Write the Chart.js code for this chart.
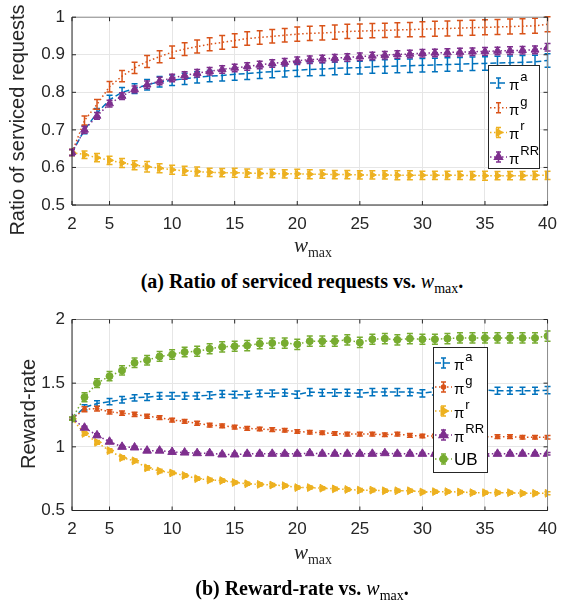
<!DOCTYPE html>
<html>
<head>
<meta charset="utf-8">
<script src="https://cdn.jsdelivr.net/npm/chart.js@4.4.0/dist/chart.umd.min.js"></script>
<style>
  body { margin: 0; background: #fff; width: 566px; height: 604px; position: relative; overflow: hidden; }
  canvas { position: absolute; left: 0; }
  .ytitle { position: absolute; font-family: "Liberation Sans", Arial, sans-serif; font-size: 20px; color: #262626;
            transform: translate(-50%, -50%) rotate(-90deg); white-space: nowrap; }
  .xtitle { position: absolute; font-family: "Liberation Serif", serif; color: #262626;
            transform: translate(-50%, -50%); white-space: nowrap; }
  .xtitle i { font-size: 21px; }
  .xtitle sub, .cap sub { font-size: 14px; font-style: normal; }
  .cap { position: absolute; font-family: "Liberation Serif", serif; font-weight: bold; font-size: 20px; color: #000;
         transform: translate(-50%, -50%); white-space: nowrap; }
  .cap span { font-weight: normal; }
  .cap i { font-size: 20px; }
</style>
</head>
<body>
<canvas id="chart_ratio" width="566" height="262" style="top:0"></canvas>
<canvas id="chart_reward" width="566" height="270" style="top:300px"></canvas>

<div class="ytitle" style="left:17px;top:120px">Ratio of serviced requests</div>
<div class="xtitle" style="left:313px;top:247px"><i>w</i><sub>max</sub></div>
<div class="cap" style="left:302px;top:283px">(a) Ratio of serviced requests vs. <span><i>w</i><sub>max</sub></span>.</div>

<div class="ytitle" style="left:28px;top:414px">Reward-rate</div>
<div class="xtitle" style="left:313px;top:554px"><i>w</i><sub>max</sub></div>
<div class="cap" style="left:302px;top:590px">(b) Reward-rate vs. <span><i>w</i><sub>max</sub></span>.</div>

<script>
// x values and tick labels
var wmax = [2,3,4,5,6,7,8,9,10,11,12,13,14,15,16,17,18,19,20,21,22,23,24,25,26,27,28,29,30,31,32,33,34,35,36,37,38,39,40];
var xTicks = [2,5,10,15,20,25,30,35,40];
var ratioTicks = [0.5,0.6,0.7,0.8,0.9,1];
var rewardTicks = [0.5,1,1.5,2];

// (a) ratio of serviced requests
var ratioA  = [0.640,0.700,0.745,0.780,0.800,0.810,0.820,0.828,0.832,0.836,0.840,0.843,0.845,0.848,0.850,0.853,0.855,0.857,0.859,0.861,0.862,0.864,0.865,0.866,0.868,0.869,0.870,0.871,0.872,0.873,0.874,0.875,0.876,0.877,0.878,0.879,0.880,0.881,0.885];
var ratioG  = [0.640,0.725,0.768,0.815,0.843,0.865,0.882,0.895,0.907,0.915,0.922,0.928,0.933,0.938,0.943,0.946,0.949,0.952,0.955,0.957,0.958,0.960,0.962,0.963,0.964,0.965,0.966,0.967,0.968,0.969,0.970,0.971,0.972,0.973,0.974,0.975,0.976,0.977,0.981];
var ratioR  = [0.640,0.634,0.626,0.619,0.612,0.606,0.602,0.598,0.594,0.591,0.589,0.587,0.586,0.586,0.585,0.584,0.584,0.583,0.583,0.582,0.582,0.581,0.581,0.580,0.580,0.580,0.579,0.579,0.579,0.579,0.579,0.579,0.578,0.578,0.578,0.578,0.578,0.579,0.579];
var ratioRR = [0.640,0.700,0.737,0.770,0.790,0.808,0.820,0.830,0.838,0.845,0.851,0.856,0.861,0.865,0.869,0.873,0.877,0.880,0.884,0.887,0.889,0.891,0.893,0.895,0.897,0.899,0.901,0.902,0.904,0.905,0.906,0.907,0.908,0.909,0.910,0.911,0.912,0.913,0.920];
// error bar half widths
var ratioErrA  = [0.008,0.010,0.012,0.012,0.013,0.013,0.014,0.014,0.014,0.015,0.015,0.015,0.015,0.016,0.016,0.016,0.016,0.016,0.017,0.017,0.017,0.017,0.017,0.017,0.017,0.018,0.018,0.018,0.018,0.018,0.018,0.018,0.018,0.018,0.018,0.018,0.018,0.018,0.018];
var ratioErrG  = [0.008,0.012,0.013,0.014,0.015,0.015,0.016,0.016,0.016,0.017,0.017,0.017,0.018,0.018,0.018,0.018,0.018,0.018,0.019,0.019,0.019,0.019,0.019,0.019,0.019,0.019,0.019,0.019,0.020,0.020,0.020,0.020,0.020,0.020,0.020,0.020,0.020,0.020,0.020];
var ratioErrR  = [0.008,0.010,0.011,0.011,0.012,0.012,0.014,0.012,0.012,0.012,0.012,0.011,0.011,0.012,0.011,0.012,0.011,0.011,0.012,0.012,0.011,0.011,0.011,0.011,0.011,0.011,0.012,0.012,0.011,0.011,0.011,0.011,0.011,0.012,0.011,0.011,0.011,0.011,0.011];
var ratioErrRR = [0.008,0.009,0.009,0.009,0.009,0.009,0.010,0.010,0.010,0.010,0.010,0.010,0.010,0.010,0.010,0.010,0.010,0.010,0.010,0.010,0.010,0.010,0.010,0.010,0.010,0.010,0.010,0.010,0.010,0.010,0.010,0.010,0.010,0.010,0.010,0.010,0.010,0.010,0.010];

// (b) reward rate
var rewardA  = [1.22,1.31,1.34,1.355,1.37,1.385,1.39,1.40,1.40,1.40,1.40,1.405,1.415,1.41,1.41,1.42,1.42,1.425,1.41,1.43,1.425,1.425,1.425,1.42,1.43,1.43,1.43,1.43,1.42,1.435,1.435,1.44,1.44,1.445,1.44,1.44,1.44,1.44,1.445];
var rewardG  = [1.22,1.295,1.30,1.275,1.265,1.255,1.24,1.23,1.21,1.20,1.185,1.17,1.165,1.155,1.145,1.14,1.135,1.13,1.12,1.115,1.11,1.105,1.10,1.10,1.10,1.095,1.10,1.09,1.085,1.085,1.085,1.08,1.08,1.08,1.08,1.08,1.075,1.075,1.075];
var rewardR  = [1.22,1.105,1.035,0.97,0.915,0.89,0.835,0.81,0.795,0.775,0.75,0.74,0.735,0.72,0.71,0.705,0.70,0.695,0.68,0.68,0.675,0.67,0.665,0.66,0.66,0.655,0.655,0.655,0.645,0.648,0.648,0.645,0.64,0.64,0.64,0.64,0.635,0.635,0.635];
var rewardRR = [1.22,1.15,1.09,1.04,1.00,0.995,0.97,0.97,0.96,0.955,0.95,0.95,0.94,0.94,0.945,0.945,0.945,0.945,0.945,0.95,0.945,0.945,0.945,0.945,0.945,0.95,0.945,0.945,0.945,0.945,0.945,0.945,0.945,0.945,0.945,0.945,0.945,0.945,0.945];
var rewardUB = [1.22,1.39,1.50,1.555,1.60,1.66,1.68,1.71,1.725,1.745,1.75,1.77,1.785,1.79,1.795,1.81,1.815,1.815,1.805,1.83,1.83,1.83,1.84,1.82,1.845,1.85,1.84,1.85,1.845,1.845,1.85,1.855,1.855,1.855,1.855,1.855,1.855,1.855,1.87];
var rewardErrA  = [0.010,0.020,0.022,0.024,0.025,0.025,0.026,0.026,0.026,0.026,0.026,0.027,0.027,0.027,0.027,0.027,0.027,0.027,0.028,0.028,0.028,0.028,0.028,0.028,0.028,0.028,0.028,0.028,0.028,0.028,0.028,0.028,0.028,0.028,0.028,0.028,0.028,0.028,0.028];
var rewardErrG  = [0.010,0.020,0.018,0.017,0.016,0.016,0.016,0.015,0.015,0.015,0.015,0.015,0.015,0.015,0.014,0.014,0.014,0.014,0.014,0.014,0.014,0.014,0.014,0.014,0.014,0.014,0.014,0.014,0.014,0.014,0.014,0.014,0.014,0.014,0.014,0.014,0.014,0.014,0.014];
var rewardErrR  = [0.010,0.014,0.014,0.014,0.014,0.014,0.016,0.014,0.013,0.013,0.013,0.013,0.013,0.012,0.012,0.012,0.012,0.012,0.012,0.012,0.012,0.012,0.012,0.012,0.012,0.012,0.012,0.012,0.012,0.012,0.012,0.012,0.012,0.012,0.012,0.012,0.012,0.012,0.012];
var rewardErrRR = [0.010,0.012,0.012,0.011,0.010,0.010,0.010,0.010,0.010,0.010,0.010,0.010,0.010,0.010,0.010,0.010,0.010,0.010,0.010,0.010,0.010,0.010,0.010,0.010,0.010,0.010,0.010,0.010,0.010,0.010,0.010,0.010,0.010,0.010,0.010,0.010,0.010,0.010,0.010];
var rewardErrUB = [0.012,0.035,0.035,0.036,0.036,0.037,0.038,0.038,0.038,0.038,0.039,0.039,0.040,0.040,0.040,0.040,0.040,0.040,0.040,0.040,0.040,0.040,0.040,0.040,0.040,0.040,0.040,0.040,0.040,0.040,0.040,0.040,0.040,0.040,0.040,0.040,0.040,0.040,0.040];

// MATLAB default colours
var blue = "#0072BD", orange = "#D95319", yellow = "#EDB120", purple = "#7E2F8E", green = "#77AC30";
var dashed = [6, 3];
var dotted = [1.5, 2.5];

// error bars, frame, inward ticks and legend
const extras = {
  id: "extras",
  beforeDatasetDraw(chart, args) {
    const ds = chart.data.datasets[args.index];
    if (!ds.errors) return;
    const sx = chart.scales.x, sy = chart.scales.y, ctx = chart.ctx;
    ctx.save();
    ctx.strokeStyle = ds.borderColor;
    ctx.lineWidth = 1.5;
    ctx.setLineDash([]);
    ctx.beginPath();
    ds.data.forEach((p, k) => {
      const px = sx.getPixelForValue(p.x);
      const y1 = sy.getPixelForValue(p.y - ds.errors[k]);
      const y2 = sy.getPixelForValue(p.y + ds.errors[k]);
      ctx.moveTo(px, y1); ctx.lineTo(px, y2);
      ctx.moveTo(px - 3, y1); ctx.lineTo(px + 3, y1);
      ctx.moveTo(px - 3, y2); ctx.lineTo(px + 3, y2);
    });
    ctx.stroke();
    ctx.restore();
  },
  afterDraw(chart) {
    const ctx = chart.ctx, a = chart.chartArea;
    const o = chart.options.plugins.extras;
    ctx.save();
    ctx.setLineDash([]);
    ctx.lineWidth = 1;
    // box
    ctx.strokeStyle = "#8c8c8c";
    ctx.beginPath();
    ctx.moveTo(a.left, a.top); ctx.lineTo(a.right, a.top); ctx.lineTo(a.right, a.bottom);
    ctx.stroke();
    ctx.strokeStyle = "#262626";
    ctx.beginPath();
    ctx.moveTo(a.left, a.top); ctx.lineTo(a.left, a.bottom); ctx.lineTo(a.right, a.bottom);
    // ticks pointing inside
    xTicks.forEach(v => {
      const px = chart.scales.x.getPixelForValue(v);
      ctx.moveTo(px, a.bottom); ctx.lineTo(px, a.bottom - 4);
      ctx.moveTo(px, a.top); ctx.lineTo(px, a.top + 4);
    });
    o.yTicks.forEach(v => {
      const py = chart.scales.y.getPixelForValue(v);
      ctx.moveTo(a.left, py); ctx.lineTo(a.left + 4, py);
      ctx.moveTo(a.right, py); ctx.lineTo(a.right - 4, py);
    });
    ctx.stroke();

    // legend
    const L = o.legend;
    ctx.fillStyle = "#fff";
    ctx.fillRect(L.left, L.top, L.width, L.height);
    ctx.strokeStyle = "#262626";
    ctx.strokeRect(L.left + 0.5, L.top + 0.5, L.width, L.height);
    chart.data.datasets.forEach((ds, i) => {
      const cy = L.top + L.first + i * L.step;
      const x0 = L.left + 2, x1 = L.left + 19, xm = (x0 + x1) / 2;
      ctx.strokeStyle = ds.borderColor;
      ctx.fillStyle = ds.borderColor;
      ctx.lineWidth = 1.5;
      ctx.setLineDash(ds.borderDash);
      ctx.beginPath(); ctx.moveTo(x0, cy); ctx.lineTo(x1, cy); ctx.stroke();
      ctx.setLineDash([]);
      ctx.beginPath();
      ctx.moveTo(xm, cy - 5); ctx.lineTo(xm, cy + 5);
      ctx.moveTo(xm - 2.5, cy - 5); ctx.lineTo(xm + 2.5, cy - 5);
      ctx.moveTo(xm - 2.5, cy + 5); ctx.lineTo(xm + 2.5, cy + 5);
      ctx.stroke();
      if (ds.pointRadius > 0) {
        Chart.helpers.drawPoint(ctx, {pointStyle: ds.pointStyle, radius: ds.pointRadius,
          rotation: ds.pointRotation, borderWidth: 1}, xm, cy);
      }
      ctx.fillStyle = "#000";
      ctx.textBaseline = "alphabetic";
      ctx.textAlign = "left";
      if (ds.label === "UB") {
        ctx.font = '17px "Liberation Sans"';
        ctx.fillText("UB", L.left + 21, cy + 6);
      } else {
        ctx.font = '15px "Liberation Sans"';
        ctx.fillText("π", L.left + 21, cy + 7);
        const w = ctx.measureText("π").width;
        ctx.font = '13px "Liberation Sans"';
        ctx.fillText(ds.sup, L.left + 21 + w + 1, cy - 2);
      }
    });
    ctx.restore();
  }
};

function makeChart(id, series, yMin, yMax, yTicks, padTop, xHeight, legend) {
  const datasets = series.map((s, i) => ({
    label: s.label,
    sup: s.sup,
    data: wmax.map((w, k) => ({x: w, y: s.values[k]})),
    errors: s.errors,
    borderColor: s.color,
    backgroundColor: s.color,
    borderWidth: 1.5,
    borderDash: s.dash,
    pointStyle: s.marker || "circle",
    pointRadius: s.marker ? s.size : 0,
    pointRotation: s.rot || 0,
    pointBorderWidth: 1,
    order: series.length - i
  }));
  const tickFont = {family: '"Liberation Sans", Arial, sans-serif', size: 17};
  return new Chart(document.getElementById(id).getContext("2d"), {
    type: "line",
    data: {datasets: datasets},
    options: {
      responsive: false,
      animation: false,
      layout: {padding: {left: 0, right: 11, top: padTop, bottom: 0}},
      scales: {
        x: {
          type: "linear", min: 2, max: 40,
          afterBuildTicks: sc => { sc.ticks = xTicks.map(v => ({value: v})); },
          afterFit: sc => { sc.height = xHeight; },
          grid: {color: "#e6e6e6", drawTicks: false},
          border: {display: false},
          ticks: {font: tickFont, color: "#262626", padding: 9, maxRotation: 0, autoSkip: false,
                  callback: v => String(v)}
        },
        y: {
          min: yMin, max: yMax,
          afterBuildTicks: sc => { sc.ticks = yTicks.map(v => ({value: v})); },
          afterFit: sc => { sc.width = 72; },
          grid: {color: "#e6e6e6", drawTicks: false},
          border: {display: false},
          ticks: {font: tickFont, color: "#262626", padding: 7, callback: v => String(v)}
        }
      },
      plugins: {
        legend: {display: false},
        tooltip: {enabled: false},
        extras: {yTicks: yTicks, legend: legend}
      }
    },
    plugins: [extras]
  });
}

makeChart("chart_ratio", [
  {label: "π", sup: "a",  values: ratioA,  errors: ratioErrA,  color: blue,   dash: dashed},
  {label: "π", sup: "g",  values: ratioG,  errors: ratioErrG,  color: orange, dash: dotted},
  {label: "π", sup: "r",  values: ratioR,  errors: ratioErrR,  color: yellow, dash: dotted, marker: "triangle", size: 4, rot: 90},
  {label: "π", sup: "RR", values: ratioRR, errors: ratioErrRR, color: purple, dash: dotted, marker: "triangle", size: 4.5}
], 0.5, 1, ratioTicks, 11, 57, {left: 488, top: 65, width: 51, height: 103, first: 18, step: 24.7});

makeChart("chart_reward", [
  {label: "π", sup: "a",  values: rewardA,  errors: rewardErrA,  color: blue,   dash: dashed},
  {label: "π", sup: "g",  values: rewardG,  errors: rewardErrG,  color: orange, dash: dotted, marker: "circle", size: 2},
  {label: "π", sup: "r",  values: rewardR,  errors: rewardErrR,  color: yellow, dash: dotted, marker: "triangle", size: 4.5, rot: 90},
  {label: "π", sup: "RR", values: rewardRR, errors: rewardErrRR, color: purple, dash: dotted, marker: "triangle", size: 5},
  {label: "UB",           values: rewardUB, errors: rewardErrUB, color: green,  dash: dotted, marker: "circle", size: 3.5}
], 0.5, 2, rewardTicks, 19.5, 59.5, {left: 433, top: 47, width: 54, height: 125, first: 16, step: 24});
</script>
</body>
</html>
